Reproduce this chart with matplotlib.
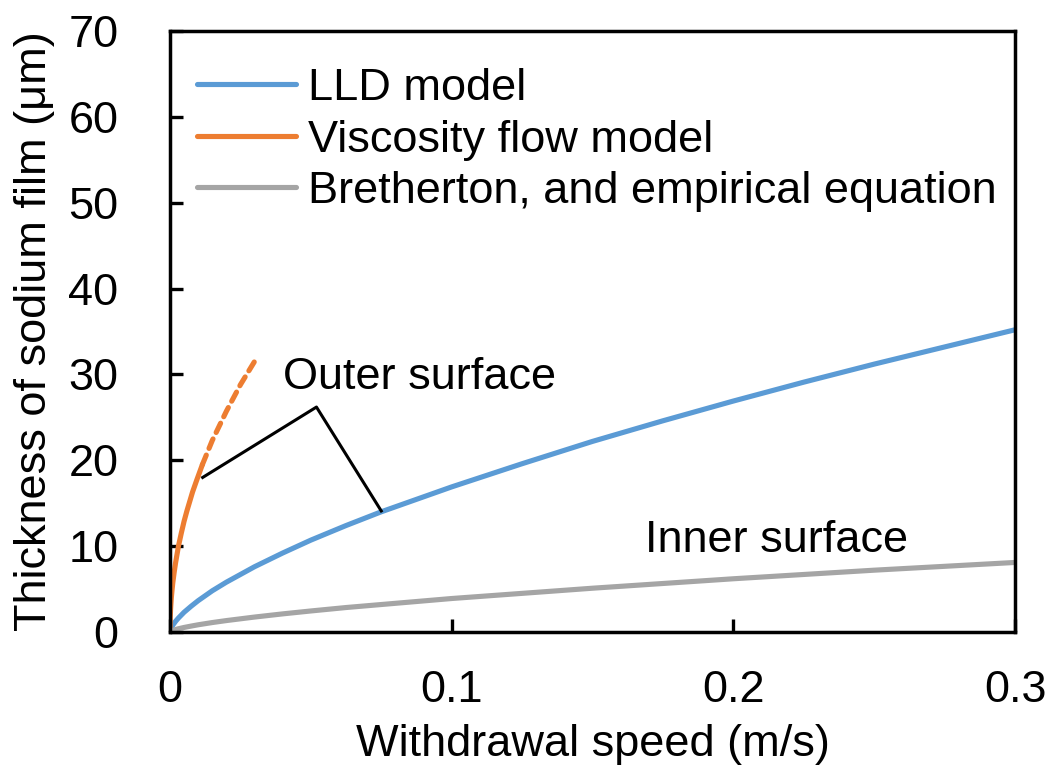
import matplotlib.pyplot as plt

plt.rcParams['font.family'] = ['Liberation Sans', 'DejaVu Sans']

# values
speed = [0, 0.0005, 0.001, 0.002, 0.003, 0.005, 0.0075, 0.01, 0.015, 0.02, 0.03, 0.04, 0.05,
         0.0625, 0.075, 0.1, 0.125, 0.15, 0.175, 0.2, 0.225, 0.25, 0.275, 0.3]
thick_lld = [0, 0.49, 0.8, 1.25, 1.63, 2.3, 3.0, 3.65, 4.8, 5.8, 7.6, 9.2, 10.7,
             12.4, 14.0, 16.9, 19.6, 22.2, 24.6, 26.9, 29.1, 31.2, 33.2, 35.2]
thick_bre = [0, 0.11, 0.18, 0.29, 0.38, 0.53, 0.69, 0.84, 1.1, 1.33, 1.74, 2.11, 2.45,
             2.85, 3.2, 3.9, 4.5, 5.1, 5.65, 6.2, 6.7, 7.2, 7.65, 8.1]

speed_visc = [0, 0.00005, 0.0001, 0.0002, 0.0003, 0.0005, 0.0007, 0.001, 0.0015, 0.002,
              0.003, 0.004, 0.005, 0.006, 0.007, 0.008, 0.0095, 0.0115]
thick_visc = [0, 1.3, 1.8, 2.6, 3.15, 4.1, 4.8, 5.75, 7.0, 8.1,
              10.0, 11.5, 12.9, 14.1, 15.2, 16.3, 17.7, 19.5]
speed_visc_ext = [0.0115, 0.015, 0.02, 0.025, 0.03]
thick_visc_ext = [19.5, 22.3, 25.7, 28.8, 31.5]

# bracket for "Outer surface"
bracket_x = [0.0116, 0.052, 0.075]
bracket_y = [18.0, 26.2, 14.1]

fs = 32.5

fig = plt.figure(figsize=(10.54, 7.79), dpi=100)
ax = fig.add_axes([170/1054, 1-632/779, (1015-170)/1054, (632-31)/779])

ax.plot(speed, thick_lld, color='#5B9BD5', lw=3.7, label='LLD model', solid_capstyle='round')
ax.plot(speed_visc, thick_visc, color='#ED7D31', lw=3.7, label='Viscosity flow model', solid_capstyle='round')
ax.plot(speed_visc_ext, thick_visc_ext, color='#ED7D31', lw=3.7, ls=(0, (2.0, 1.4)), dash_capstyle='round')
ax.plot(speed, thick_bre, color='#A5A5A5', lw=3.7, label='Bretherton, and empirical equation', solid_capstyle='round')
ax.plot(bracket_x, bracket_y, color='black', lw=2.2)

ax.text(0.0885, 29.7, 'Outer surface', fontsize=fs, ha='center', va='center')
ax.text(0.2153, 10.7, 'Inner surface', fontsize=fs, ha='center', va='center')

ax.set_xlim(0, 0.3)
ax.set_ylim(0, 70)
ax.set_xticks([0, 0.1, 0.2, 0.3])
ax.set_xticklabels(['0', '0.1', '0.2', '0.3'])
ax.set_yticks(range(0, 71, 10))
ax.tick_params(direction='in', length=9.5, width=2.4, labelsize=fs)
ax.tick_params(axis='y', pad=37)
ax.tick_params(axis='x', pad=27)
for s in ax.spines.values():
    s.set_linewidth(2.5)

ax.set_xlabel('Withdrawal speed (m/s)', fontsize=fs, va='center')
ax.set_ylabel('Thickness of sodium film (\u03bcm)', fontsize=fs, va='center')
ax.xaxis.set_label_coords(0.5, -0.188)
ax.yaxis.set_label_coords(-0.16, 0.5)

ax.legend(loc='upper left', frameon=False, fontsize=fs, handlelength=2.18,
          handletextpad=0.27, labelspacing=0.23, borderaxespad=0,
          bbox_to_anchor=(0.011, 0.968))

fig.savefig('out.png', dpi=100)
